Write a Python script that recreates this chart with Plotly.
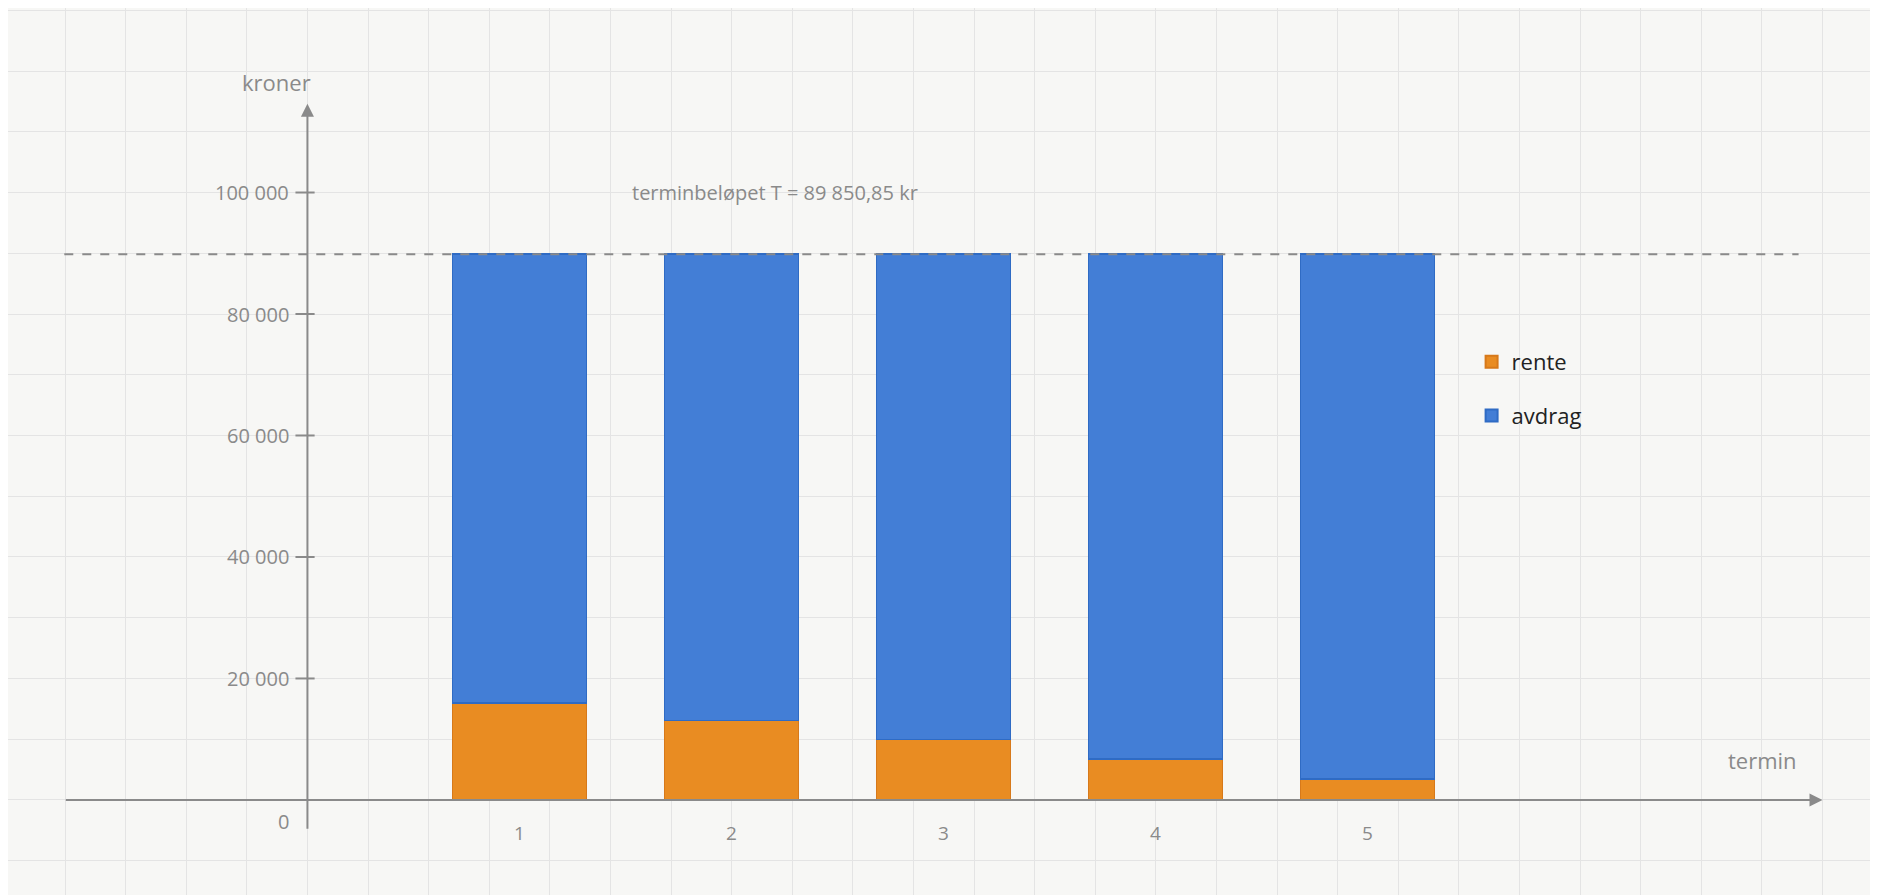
import plotly.graph_objects as go

# data: annuity loan, 5 terms
termin = [1, 2, 3, 4, 5]
rente = [16000.00, 13045.97, 9973.77, 6778.69, 3455.80]
avdrag = [73850.85, 76804.88, 79877.08, 83072.16, 86395.05]
terminbelop = 89850.85
y_ticks = [0, 20000, 40000, 60000, 80000, 100000]
y_tick_text = ["0", "20 000", "40 000", "60 000", "80 000", "100 000"]

grey = "#8a8a8a"
font = "Open Sans"

# axis mapping derived from reference pixels
x_range = [1 - 427 / 177, 1 + (1568 - 427) / 177]
y_range = [-(747 - 661) * 100000 / 507, 661 * 100000 / 507]
def px_x(p): return 1 + (p - 427) / 177

fig = go.Figure()
fig.add_bar(x=termin, y=rente, name="rente", legendgroup="r",
            marker=dict(color="#e98c22", line=dict(color="#d7791a", width=1.5)), width=0.633)
fig.add_bar(x=termin, y=avdrag, name="avdrag", legendgroup="a",
            marker=dict(color="#437ed6", line=dict(color="#2f6bc4", width=1.5)), width=0.633)

# dashed line for terminbeløpet
fig.add_shape(type="line", x0=px_x(47), x1=px_x(1495), y0=terminbelop, y1=terminbelop,
              line=dict(color=grey, width=2, dash="dash"))
# axes with arrows
fig.add_annotation(x=px_x(1515), y=0, ax=px_x(47), ay=0, xref="x", yref="y", axref="x", ayref="y",
                   showarrow=True, arrowhead=2, arrowsize=1.3, arrowwidth=2, arrowcolor=grey, text="")
fig.add_annotation(x=0, y=(661 - 80) * 100000 / 507, ax=0, ay=-5000, xref="x", yref="y", axref="x", ayref="y",
                   showarrow=True, arrowhead=2, arrowsize=1.3, arrowwidth=2, arrowcolor=grey, text="")
for v in y_ticks[1:]:
    fig.add_shape(type="line", x0=px_x(240), x1=px_x(256), y0=v, y1=v, line=dict(color=grey, width=2))
for v, t in zip(y_ticks, y_tick_text):
    fig.add_annotation(x=px_x(236), y=v if v else -3500, text=t, showarrow=False,
                       xanchor="right", font=dict(family=font, size=20, color=grey))
for t in termin:
    fig.add_annotation(x=t, y=-5500, text=str(t), showarrow=False, font=dict(family=font, size=19, color=grey))

fig.add_annotation(x=px_x(224), y=(661 - 62) * 100000 / 507, text="kroner", showarrow=False,
                   font=dict(family=font, size=22, color=grey))
fig.add_annotation(x=px_x(1465), y=(661 - 628) * 100000 / 507, text="termin", showarrow=False,
                   font=dict(family=font, size=22, color=grey))
fig.add_annotation(x=px_x(640), y=100000, text="terminbeløpet T = 89 850,85 kr", showarrow=False,
                   font=dict(family=font, size=20, color=grey))

fig.update_layout(
    width=1878, height=895, margin=dict(l=0, r=0, t=0, b=0),
    barmode="stack", paper_bgcolor="#f7f7f5", plot_bgcolor="#f7f7f5",
    legend=dict(x=1222 / 1568, y=1 - 318 / 747, traceorder="reversed+grouped", bgcolor="rgba(0,0,0,0)",
                font=dict(family=font, size=22, color="#222"), itemsizing="constant", tracegroupgap=22),
    xaxis=dict(range=x_range, showticklabels=False, zeroline=False, showgrid=True, gridcolor="#e4e4e4",
               tick0=0, dtick=50.6 / 177, fixedrange=True),
    yaxis=dict(range=y_range, showticklabels=False, zeroline=False, showgrid=True, gridcolor="#e4e4e4",
               tick0=0, dtick=10000, fixedrange=True),
)
fig.write_html("out.html")
